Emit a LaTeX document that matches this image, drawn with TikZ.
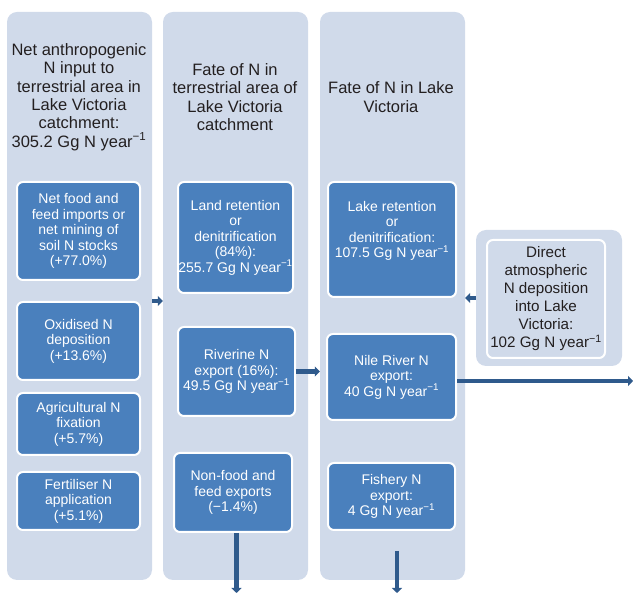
\documentclass[tikz,border=0pt]{standalone}
\usepackage{fontspec}
\setmainfont{Liberation Sans}
\usepackage{tikz}
\usetikzlibrary{arrows.meta}
\definecolor{panelblue}{RGB}{208,218,234}
\definecolor{boxblue}{RGB}{74,128,189}
\definecolor{flowblue}{RGB}{47,90,140}
\definecolor{headtext}{RGB}{35,31,32}
\tikzset{
    panel/.style={rectangle, rounded corners=10pt, fill=panelblue, minimum width=145pt, minimum height=568pt, inner sep=0},
    head/.style={align=center, text=headtext, inner sep=0, font=\fontsize{16.5}{18.3}\selectfont},
    box/.style={rectangle, draw=white, line width=2pt, rounded corners=6pt, fill=boxblue, text=white, align=center, inner sep=0, font=\fontsize{14}{15.5}\selectfont},
    flow/.style={draw=flowblue, line width=4.5pt, -{Triangle[length=5pt,width=10pt]}},
}
\newcommand{\peryear}{year\textsuperscript{−1}}

\begin{document}
\begin{tikzpicture}[x=1pt, y=1pt]
    \useasboundingbox (0,0) rectangle (633,-593);

    % columns
    \node[panel] (inputs) at (79.5,-296) {};
    \node[panel] (land) at (235.5,-296) {};
    \node[panel] (lake) at (392.5,-296) {};
    \node[panel, minimum width=146pt, minimum height=136pt] (atmo) at (549,-298) {};

    \node[head] (inhead) at (79,-97) {Net anthropogenic\\ N input to\\ terrestrial area in\\ Lake Victoria\\ catchment:\\ 305.2 Gg N \peryear};
    \node[head] (landhead) at (235,-97) {Fate of N in\\ terrestrial area of\\ Lake Victoria\\ catchment};
    \node[head] (lakehead) at (391,-97) {Fate of N in Lake\\ Victoria};

    % inputs
    \node[box, minimum width=123pt, minimum height=98pt] (food) at (78.5,-231) {Net food and\\ feed imports or\\ net mining of\\ soil N stocks\\ (+77.0\%)};
    \node[box, minimum width=123pt, minimum height=78pt] (oxid) at (78.5,-341) {Oxidised N\\ deposition\\ (+13.6\%)};
    \node[box, minimum width=123pt, minimum height=62pt] (fix) at (78.5,-424) {Agricultural N\\ fixation\\ (+5.7\%)};
    \node[box, minimum width=123pt, minimum height=58pt] (fert) at (78.5,-501) {Fertiliser N\\ application\\ (+5.1\%)};

    % terrestrial fate
    \node[box, minimum width=115pt, minimum height=111pt] (landret) at (235.5,-237.5) {Land retention\\ or\\ denitrification\\ (84\%):\\ 255.7 Gg N \peryear};
    \node[box, minimum width=117pt, minimum height=89pt] (river) at (236.5,-371.5) {Riverine N\\ export (16\%):\\ 49.5 Gg N \peryear};
    \node[box, minimum width=118pt, minimum height=79pt] (nonfood) at (233,-492.5) {Non-food and\\ feed exports\\ (−1.4\%)};

    % lake fate
    \node[box, minimum width=128pt, minimum height=115pt] (lakeret) at (392,-239.5) {Lake retention\\ or\\ denitrification:\\ 107.5 Gg N \peryear\\[5pt]};
    \node[box, minimum width=129pt, minimum height=86pt] (nile) at (391.5,-377) {Nile River N\\ export:\\ 40 Gg N \peryear};
    \node[box, minimum width=127pt, minimum height=67pt] (fish) at (391.5,-496.5) {Fishery N\\ export:\\ 4 Gg N \peryear};

    \node[box, fill=panelblue, text=headtext, minimum width=118pt, minimum height=118pt, font=\fontsize{15.2}{18}\selectfont] (direct) at (546,-299) {Direct\\ atmospheric\\ N deposition\\ into Lake\\ Victoria:\\ 102 Gg N \peryear};

    \coordinate (nileout) at (633,-381);
    \coordinate (nfout) at (236.5,-593);
    \coordinate (lakebase) at (397,-551);
    \coordinate (lakeout) at (397,-593);

    \draw[flow] (inputs.east |- oxid.north) -- (land.west |- oxid.north);
    \draw[flow] (atmo.west) -- (lake.east |- atmo.west);
    \draw[flow] (river.east) -- (lake.west |- river.east);
    \draw[flow] ([yshift=-4pt]nile.east) -- (nileout);
    \draw[flow] (nonfood.south -| nfout) -- (nfout);
    \draw[flow] (lakebase) -- (lakeout);
\end{tikzpicture}
\end{document}
